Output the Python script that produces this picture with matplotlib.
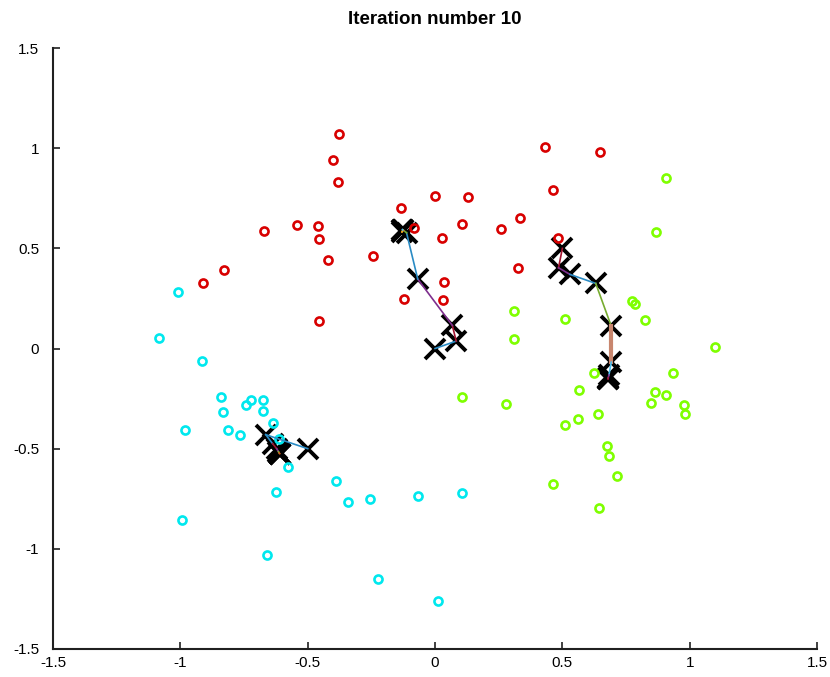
import matplotlib
matplotlib.use("Agg")
import matplotlib.pyplot as plt

# data points, grouped by the cluster they were assigned to at iteration 10
red_x = [-0.376, -0.402, -0.382, -0.001, -0.132, -0.083, -0.673, -0.541, -0.459, -0.455,
         0.029, -0.422, -0.242, -0.828, -0.913, -0.122, -0.456, 0.034, 0.031, 0.432,
         0.646, 0.131, 0.464, 0.105, 0.258, 0.334, 0.483, 0.325]
red_y = [1.071, 0.940, 0.833, 0.760, 0.700, 0.600, 0.587, 0.617, 0.612, 0.548,
         0.550, 0.443, 0.461, 0.390, 0.328, 0.248, 0.137, 0.330, 0.240, 1.008,
         0.980, 0.758, 0.792, 0.623, 0.598, 0.650, 0.550, 0.403]

green_x = [0.909, 0.866, 0.774, 0.786, 0.825, 0.510, 0.312, 0.309, 1.100, 0.936,
           0.624, 0.567, 0.863, 0.906, 0.850, 0.976, 0.982, 0.106, 0.278, 0.640,
           0.563, 0.512, 0.677, 0.685, 0.714, 0.462, 0.644]
green_y = [0.850, 0.580, 0.237, 0.223, 0.142, 0.145, 0.187, 0.047, 0.007, -0.123,
           -0.122, -0.208, -0.218, -0.232, -0.272, -0.280, -0.327, -0.240, -0.277, -0.325,
           -0.352, -0.380, -0.485, -0.537, -0.637, -0.677, -0.798]

cyan_x = [-1.011, -1.084, -0.915, -0.841, -0.833, -0.741, -0.724, -0.675, -0.676, -0.984,
          -0.812, -0.765, -0.635, -0.614, -0.578, -0.626, -0.390, -0.343, -0.257, -0.068,
          0.107, -0.995, -0.661, -0.223, 0.013]
cyan_y = [0.284, 0.055, -0.060, -0.243, -0.317, -0.280, -0.255, -0.255, -0.310, -0.405,
          -0.407, -0.432, -0.370, -0.450, -0.590, -0.718, -0.662, -0.767, -0.750, -0.735,
          -0.722, -0.855, -1.032, -1.152, -1.260]

# centroid positions over the 10 iterations
c1_x = [0.000, 0.083, 0.068, -0.068, -0.112, -0.124, -0.130, -0.127, -0.128, -0.128]
c1_y = [0.000, 0.037, 0.115, 0.347, 0.578, 0.590, 0.582, 0.592, 0.594, 0.594]
c2_x = [0.500, 0.485, 0.530, 0.631, 0.692, 0.692, 0.683, 0.680, 0.680, 0.680]
c2_y = [0.500, 0.403, 0.370, 0.325, 0.112, -0.068, -0.132, -0.148, -0.152, -0.153]
c3_x = [-0.500, -0.665, -0.638, -0.622, -0.615, -0.612, -0.610, -0.610, -0.610, -0.610]
c3_y = [-0.500, -0.430, -0.475, -0.500, -0.515, -0.522, -0.525, -0.526, -0.526, -0.526]

# colour of each step of the centroid paths
c1_seg = ["#2a8bc4", "#a2142f", "#7e2f8e", "#2a8bc4", "#77ac30", "#d95319", "#edb120", "#4dbeee", "#7e2f8e"]
c2_seg = ["#a2142f", "#7e2f8e", "#2a8bc4", "#77ac30", "#c8866e", "#4dbeee", "#7e2f8e", "#a2142f", "#2a8bc4"]
c3_seg = ["#2a8bc4", "#2a8bc4", "#a2142f", "#7e2f8e", "#77ac30", "#d95319", "#edb120", "#4dbeee", "#2a8bc4"]

plt.rcParams["font.family"] = ["Liberation Sans", "DejaVu Sans"]

fig = plt.figure(figsize=(8.3, 6.77), dpi=100)
ax = fig.add_axes([0.064, 0.0414, 0.9203, 0.8876])

for cx, cy in [(c1_x, c1_y), (c2_x, c2_y), (c3_x, c3_y)]:
    ax.plot(cx, cy, "x", color="k", ms=14, mew=2.8, zorder=2)

for xs, ys, col in [(red_x, red_y, "#d80000"), (green_x, green_y, "#7fff00"), (cyan_x, cyan_y, "#00e8ee")]:
    ax.plot(xs, ys, "o", mfc="none", mec=col, ms=5.8, mew=1.9, ls="none", zorder=3)

for cx, cy, seg in [(c1_x, c1_y, c1_seg), (c2_x, c2_y, c2_seg), (c3_x, c3_y, c3_seg)]:
    for i in range(len(cx) - 1):
        lw = 3.0 if seg[i] == "#c8866e" else 1.2
        ax.plot(cx[i:i + 2], cy[i:i + 2], color=seg[i], lw=lw, zorder=4)

ax.set_xlim(-1.5, 1.5)
ax.set_ylim(-1.5, 1.5)
ax.set_xticks([-1.5, -1, -0.5, 0, 0.5, 1, 1.5])
ax.set_yticks([-1.5, -1, -0.5, 0, 0.5, 1, 1.5])
ax.set_xticklabels(["-1.5", "-1", "-0.5", "0", "0.5", "1", "1.5"])
ax.set_yticklabels(["-1.5", "-1", "-0.5", "0", "0.5", "1", "1.5"])
ax.spines["top"].set_visible(False)
ax.spines["right"].set_visible(False)
for s in ["left", "bottom"]:
    ax.spines[s].set_linewidth(1.5)
    ax.spines[s].set_color("#202020")
ax.tick_params(direction="in", length=5, width=1.2, labelsize=11, color="#202020")
ax.tick_params(axis="y", pad=10)
ax.tick_params(axis="x", pad=5)
ax.set_title("Iteration number 10", fontsize=13.5, fontweight="bold", pad=17)

fig.savefig("out.png", dpi=100)
